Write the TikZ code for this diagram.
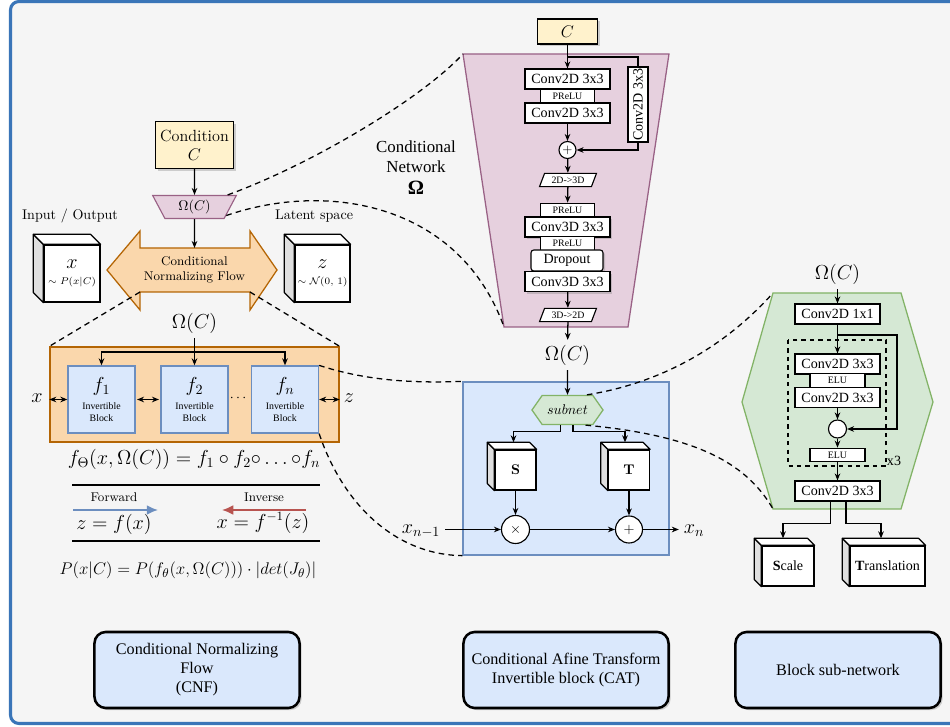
\documentclass[tikz,border=0pt]{standalone}
\usepackage{fontspec}
\usetikzlibrary{shapes,arrows.meta,positioning,calc,shadows}
\newfontfamily\tms{Liberation Serif}
\definecolor{framebg}{HTML}{F5F5F5}
\definecolor{frameblue}{HTML}{3A75B8}
\definecolor{condyellow}{HTML}{FFF2CC}
\definecolor{netpurple}{HTML}{E6D0DE}
\definecolor{netpurpleline}{HTML}{996185}
\definecolor{flowfill}{HTML}{FAD7AC}
\definecolor{flowline}{HTML}{B46504}
\definecolor{blockblue}{HTML}{DAE8FC}
\definecolor{blockline}{HTML}{6C8EBF}
\definecolor{subgreen}{HTML}{D5E8D4}
\definecolor{subgreenline}{HTML}{82B366}
\definecolor{invred}{HTML}{B85450}

% side and top faces of a box node (name, depth)
\newcommand{\cubefaces}[2]{%
  \draw[fill=gray!25, line width=0.9pt, line join=round] (#1.north west) -- ++(-#2,-#2) -- ($(#1.south west)+(-#2,-#2)$) -- (#1.south west) -- cycle;
  \draw[fill=white, line width=0.9pt, line join=round] (#1.north west) -- ++(-#2,-#2) -- ($(#1.north east)+(-#2,-#2)$) -- (#1.north east) -- cycle;
}

\begin{document}
\begin{tikzpicture}[x=0.025cm, y=-0.025cm,
    >={Stealth[length=5pt,width=4pt]},
    conn/.style={->, line width=0.9pt},
    zoomline/.style={line width=0.9pt, dash pattern=on 4pt off 3pt},
    lifted/.style={drop shadow={shadow xshift=1.5pt, shadow yshift=-1.5pt, opacity=0.35}},
    yellowbox/.style={rectangle, draw, fill=condyellow, line width=0.9pt, align=center, lifted},
    layer/.style={rectangle, draw, fill=white, line width=0.8pt, minimum width=2.125cm, minimum height=0.5cm, inner sep=1pt, font=\tms},
    act/.style={rectangle, draw, fill=white, line width=0.8pt, minimum width=1.35cm, minimum height=0.34cm, inner sep=0pt, font=\tms\scriptsize},
    reshape/.style={trapezium, trapezium left angle=60, trapezium right angle=120, trapezium stretches=true, draw, fill=white, line width=0.8pt, minimum width=1.425cm, minimum height=0.33cm, inner xsep=1pt, inner ysep=0pt, font=\tms\scriptsize},
    fblock/.style={rectangle, draw=blockline, fill=blockblue, line width=0.9pt, minimum size=1.675cm, align=center, inner sep=1pt, font=\tms\scriptsize},
    cubefront/.style={rectangle, draw, fill=white, line width=0.9pt, align=center, inner sep=1pt},
    opcircle/.style={circle, draw, fill=white, line width=0.8pt, inner sep=0pt},
    biglabel/.style={font=\fontsize{15}{18}\selectfont},
    summary/.style={rectangle, rounded corners=8pt, draw, fill=blockblue, line width=1.8pt, minimum width=5.125cm, minimum height=1.9cm, align=center, font=\tms\fontsize{11.5}{13.5}\selectfont, lifted}
]
\useasboundingbox (0,0) rectangle (950,727);
\clip (0,0) rectangle (950,727);
\draw[frameblue, fill=framebg, line width=2.2pt, rounded corners=6pt] (10.5,1.5) rectangle (975,723.5);

% CNF overview
\node (cond) [yellowbox, minimum width=1.9cm, minimum height=1.175cm, font=\fontsize{11.5}{13.5}\selectfont] at (194.5,145) {Condition\\$C$};
\node (omg) [trapezium, shape border rotate=180, trapezium angle=62, draw=netpurpleline, fill=netpurple, line width=0.8pt, minimum height=0.575cm, inner xsep=4pt, inner ysep=1pt] at (194.5,207) {$\Omega(C)$};
\draw[conn] (cond) -- (omg);

\draw[draw=flowline, fill=flowfill, line width=0.9pt] (107,270) -- (140,231) -- (140,248) -- (250,248) -- (250,231) -- (277,270) -- (250,310) -- (250,292) -- (140,292) -- (140,310) -- cycle;
\node (cnf) [font=\small, align=center] at (194.5,270) {Conditional\\Normalizing Flow};
\coordinate (cnftop) at (194.5,248);
\coordinate (cnfsl) at (140,292);
\coordinate (cnfsr) at (250,292);
\draw[conn] (omg) -- (cnftop);

\node (iolab) at (70,216) {Input / Output};
\node (latlab) at (314,216) {Latent space};
\node (xcube) [cubefront, minimum width=1.4cm, minimum height=1.425cm, font=\scriptsize] at (72,273.5) {{\Large$x$}\\[3pt]$\sim P(x|C)$};
\cubefaces{xcube}{10}
\node (zcube) [cubefront, minimum width=1.375cm, minimum height=1.425cm, font=\scriptsize] at (322.5,273.5) {{\Large$z$}\\[3pt]$\sim\mathcal{N}(0,\,1)$};
\cubefaces{zcube}{10}

% Invertible blocks
\node (cnfbox) [rectangle, draw=flowline, fill=flowfill, line width=0.9pt, minimum width=7.225cm, minimum height=2.375cm] at (194.5,394.5) {};
\node (omg2) [biglabel] at (194.5,323) {$\Omega(C)$};
\node (f1) [fblock] at (101.5,399.5) {{\Large$f_1$}\\[5pt]Invertible\\Block};
\node (f2) [fblock] at (194.5,399.5) {{\Large$f_2$}\\[5pt]Invertible\\Block};
\node (fn) [fblock] at (285,399.5) {{\Large$f_n$}\\[5pt]Invertible\\Block};
\coordinate (fbar) at (194.5,352);
\draw[conn] (omg2) -- (f2);
\draw[conn] (fbar) -| (f1);
\draw[conn] (fbar) -| (fn);
\node (xlab) [font=\Large] at (37,398) {$x$};
\node (zlab) [font=\Large] at (349,398) {$z$};
\node (dots) at (238,398) {$\cdots$};
\draw[<->, line width=0.9pt] (f1.west -| cnfbox.west) -- (f1.west);
\draw[<->, line width=0.9pt, shorten <=1pt, shorten >=1pt] (f1) -- (f2);
\draw[<->, line width=0.9pt] (fn.east) -- (fn.east -| cnfbox.east);

\node (fcomp) [font=\fontsize{14.4}{17}\selectfont] at (194,459) {$f_\Theta(x,\Omega(C)) = f_1\circ f_2{\circ}\ldots{\circ}f_n$};
\draw[line width=1pt] (72,485) -- (320,485);
\draw[line width=1pt] (72,541) -- (320,541);
\node (fwdlab) [font=\small] at (114,497) {Forward};
\node (invlab) [font=\small] at (264,497) {Inverse};
\coordinate (fwds) at (73,510);
\coordinate (fwde) at (158,510);
\coordinate (invs) at (306,510);
\coordinate (inve) at (222,510);
\draw[-{Latex[length=8pt,width=7pt]}, blockline, line width=1.3pt] (fwds) -- (fwde);
\draw[-{Latex[length=8pt,width=7pt]}, invred, line width=1.3pt] (invs) -- (inve);
\node (fwdeq) [font=\fontsize{13.5}{16}\selectfont] at (114,524) {$z = f(x)$};
\node (inveq) [font=\fontsize{13.5}{16}\selectfont] at (263,523) {$x = f^{-1}(z)$};
\node (pxc) [font=\fontsize{12.4}{15}\selectfont] at (188,570) {$P(x|C) = P(f_\theta(x,\Omega(C)))\cdot|det(J_\theta)|$};

% Conditional network
\coordinate (cntl) at (463,54);
\coordinate (cntr) at (669,54);
\coordinate (cnbr) at (628,327);
\coordinate (cnbl) at (504,327);
\draw[draw=netpurpleline, fill=netpurple, line width=0.9pt] (cntl) -- (cntr) -- (cnbr) -- (cnbl) -- cycle;
\node (cnlab) [font=\tms\large, align=center] at (416,168) {Conditional\\Network\\[2pt]{\Large\bfseries Ω}};

\node (cbox) [yellowbox, minimum width=1.5cm, minimum height=0.625cm, font=\large] at (567.5,31.5) {$C$};
\node (conv1) [layer] at (567.5,79) {Conv2D 3x3};
\node (prelu1) [act] at (567.5,96) {PReLU};
\node (conv2) [layer] at (567.5,113) {Conv2D 3x3};
\node (vconv) [layer, rotate=90, minimum width=1.875cm] at (638,104.5) {Conv2D 3x3};
\node (add1) [opcircle, minimum size=0.425cm, font=\small] at (567.5,150) {$+$};
\node (up3d) [reshape] at (568,180) {2D->3D};
\node (prelu2) [act] at (567.5,210) {PReLU};
\node (conv3) [layer, lifted] at (567.5,227) {Conv3D 3x3};
\node (prelu3) [act] at (567.5,243.5) {PReLU};
\node (drop) [layer, lifted, rounded corners=2pt, minimum width=1.8cm, minimum height=0.525cm] at (567,260.5) {Dropout};
\node (conv4) [layer, lifted] at (567.5,281.5) {Conv3D 3x3};
\node (down2d) [reshape] at (568,315) {3D->2D};
\node (omg3) [biglabel] at (567.5,355) {$\Omega(C)$};

\coordinate (csplit) at (567.5,57);
\draw[conn] (cbox) -- (conv1);
\draw[line width=0.9pt] (csplit) -| (vconv);
\draw[conn] (conv2) -- (add1);
\draw[conn] (vconv) |- (add1);
\draw[conn] (add1) -- (up3d);
\draw[conn] (up3d) -- (prelu2);
\draw[conn] (conv4) -- (down2d);
\draw[conn] (down2d) -- (omg3);

% CAT block
\node (catbox) [rectangle, draw=blockline, fill=blockblue, line width=0.9pt, minimum width=5.15cm, minimum height=4.325cm] at (566,468.5) {};
\node (subnet) [signal, signal to=east and west, signal pointer angle=110, draw=subgreenline, fill=subgreen, line width=0.9pt, minimum width=1.775cm, minimum height=0.725cm, inner sep=1pt] at (567.5,410) {$subnet$};
\node (scube) [cubefront, minimum width=1.025cm, minimum height=1cm, font=\bfseries] at (515.5,470) {S};
\cubefaces{scube}{7}
\node (tcube) [cubefront, minimum width=1.025cm, minimum height=1cm, font=\bfseries] at (629,470) {T};
\cubefaces{tcube}{7}
\node (mul) [opcircle, minimum size=0.7cm] at (515.5,529.5) {$\times$};
\node (add2) [opcircle, minimum size=0.675cm] at (629,529.5) {$+$};
\node (xprev) [font=\fontsize{14}{16}\selectfont] at (421,531) {$x_{n-1}$};
\node (xnext) [font=\fontsize{14}{16}\selectfont] at (694,531) {$x_n$};

\draw[conn] (omg3) -- (subnet);
\draw[conn] ([xshift=-5pt]subnet.south) -- ++(0,6) -| ($(scube.north)+(-2,-7)$);
\draw[conn] ([xshift=4pt]subnet.south) -- ++(0,6) -| ($(tcube.north)+(-4,-7)$);
\draw[conn] (scube) -- (mul);
\draw[conn] (tcube) -- (add2);
\draw[conn] (xprev.east |- mul) -- (mul);
\draw[conn] (mul) -- (add2);
\draw[conn] (add2) -- (add2 -| xnext.west);

% Block sub-network
\coordinate (ghtl) at (773,293);
\coordinate (ghbl) at (773,509);
\draw[draw=subgreenline, fill=subgreen, line width=0.9pt] (ghtl) -- (901,293) -- (933,402) -- (901,509) -- (ghbl) -- (742,402) -- cycle;
\node (omg4) [biglabel] at (837.5,274) {$\Omega(C)$};
\node (c11) [layer] at (837.5,314) {Conv2D 1x1};
\draw[line width=0.9pt, dashed] (788,340) rectangle (886,466);
\node (x3lab) [font=\tms] at (894,461) {x3};
\node (c33a) [layer] at (837.5,364) {Conv2D 3x3};
\node (elu1) [act, minimum width=1.375cm] at (837.5,380.5) {ELU};
\node (c33b) [layer] at (837.5,397.5) {Conv2D 3x3};
\node (join) [opcircle, minimum size=0.45cm] at (837.5,429) {};
\node (elu2) [act, minimum width=1.375cm] at (837.5,455) {ELU};
\node (c33c) [layer] at (837.5,491) {Conv2D 3x3};
\node (scl) [cubefront, minimum width=1.3cm, minimum height=1cm, font=\tms] at (788,566) {\textbf{S}cale};
\cubefaces{scl}{7}
\node (trl) [cubefront, minimum width=1.875cm, minimum height=1cm, font=\tms] at (887.5,566) {\textbf{T}ranslation};
\cubefaces{trl}{7}

\coordinate (rsplit) at (837.5,335);
\draw[conn] (omg4) -- (c11);
\draw[conn] (c11) -- (c33a);
\draw[conn] (rsplit) -- ++(59.5,0) |- (join);
\draw[conn] (c33b) -- (join);
\draw[conn] (join) -- (elu2);
\draw[conn] (elu2) -- (c33c);
\draw[conn] ([xshift=-5pt]c33c.south) -- ++(0,22) -| ($(scl.north)+(-5,-7)$);
\draw[conn] ([xshift=6pt]c33c.south) -- ++(0,22) -| ($(trl.north)+(-6.5,-7)$);

% zoom lines
\draw[zoomline] (cnfsl) -- (cnfbox.north west);
\draw[zoomline] (cnfsr) -- (cnfbox.north east);
\draw[zoomline] (omg.20) .. controls (310,165) and (420,100) .. (cntl);
\draw[zoomline] (omg.-15) .. controls (330,180) and (460,205) .. (cnbl);
\draw[zoomline] (fn.north east) .. controls (370,382) and (420,383) .. (catbox.north west);
\draw[zoomline] (fn.south east) .. controls (345,510) and (400,555) .. (catbox.south west);
\draw[zoomline] (subnet.38) .. controls (680,380) and (740,330) .. (ghtl);
\draw[zoomline] (subnet.-40) .. controls (690,435) and (745,460) .. (ghbl);

% summaries
\node (sumcnf) [summary] at (197,670) {Conditional Normalizing\\Flow\\(CNF)};
\node (sumcat) [summary] at (566,670) {Conditional Afine Transform\\Invertible block (CAT)};
\node (sumsub) [summary] at (838,670) {Block sub-network};

\end{tikzpicture}
\end{document}
